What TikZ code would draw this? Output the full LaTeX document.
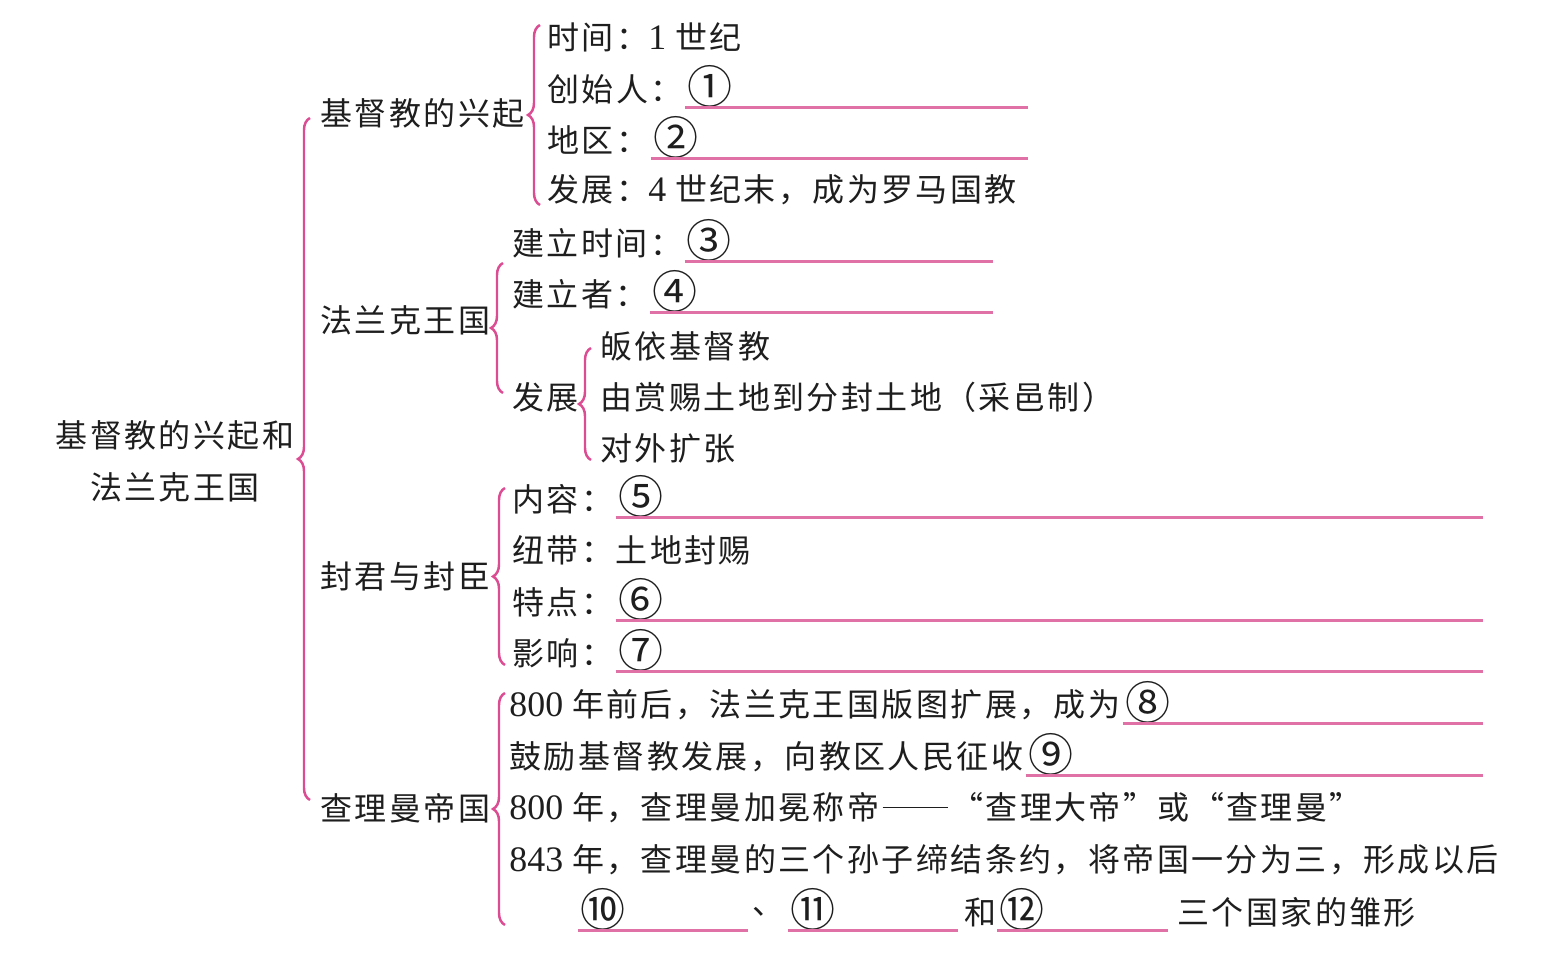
\documentclass[tikz,border=0pt]{standalone}
\usepackage{fontspec}
\setmainfont{Noto Sans CJK SC}[LetterSpace=7.5]
\newfontfamily\latinfont{Liberation Serif}[Scale=1.12]
\usetikzlibrary{positioning,decorations.pathreplacing}
\definecolor{MMPink}{HTML}{DC4C93}
\definecolor{MMLine}{HTML}{E071A6}
\definecolor{MMInk}{HTML}{1E1E1E}
\newcommand{\mmnum}[1]{{\latinfont #1}}
\newcommand{\mmcirc}[1]{\raisebox{-0.02cm}{\fontsize{12.8pt}{12.8pt}\selectfont #1}}
\newcommand{\mmdash}{\hspace{0.1em}\rule[0.36em]{2.05em}{0.045em}\hspace{0.1em}}
\tikzset{
  mmtext/.style={
    anchor=west,
    inner sep=0.5pt,
    text=MMInk,
    font=\fontsize{9.1pt}{14.8pt}\selectfont
  },
  mmroot/.style={mmtext,anchor=center,align=center},
  mmcircle/.style={mmtext,text height=0.28cm,text depth=0.04cm},
  mmbrace/.style={
    draw=MMPink,
    line width=0.7pt,
    decorate,
    decoration={brace,amplitude=0.12cm}
  },
  mmline/.style={draw=MMLine,line width=0.6pt}
}

\begin{document}
\begin{tikzpicture}[x=0.01cm,y=-0.01cm]
  \useasboundingbox (0,0) rectangle (1563,958);
  \node[mmroot] (root) at (175,461) {基督教的兴起和\\法兰克王国};
  \node[mmtext] (rise) at (318,113) {基督教的兴起};
  \node[mmtext] (frank) at (318,320) {法兰克王国};
  \node[mmtext] (lord) at (318,576) {封君与封臣};
  \node[mmtext] (karl) at (318,808) {查理曼帝国};
  \coordinate (rootT) at (310,118);
  \coordinate (rootB) at (310,800);
  \draw[mmbrace] (rootB) -- (rootT);

  % 基督教的兴起
  \node[mmtext] (rise1) at (545,37) {时间：\mmnum{1 }世纪};
  \node[mmtext] (rise2) at (545,89) {创始人：};
  \node[mmcircle,right=0pt of rise2] (rise2b) {\mmcirc{①}};
  \node[mmtext] (rise3) at (545,140) {地区：};
  \node[mmcircle,right=0pt of rise3] (rise3b) {\mmcirc{②}};
  \node[mmtext] (rise4) at (545,190) {发展：\mmnum{4 }世纪末，成为罗马国教};
  \coordinate (riseT) at (540,25);
  \coordinate (riseB) at (540,205);
  \coordinate (riseE) at (1028,0);
  \draw[mmbrace] (riseB) -- (riseT);
  \draw[mmline] (rise2b.south west) -- (rise2b.south west -| riseE);
  \draw[mmline] (rise3b.south west) -- (rise3b.south west -| riseE);

  % 法兰克王国
  \node[mmtext] (frank1) at (510,243) {建立时间：};
  \node[mmcircle,right=0pt of frank1] (frank1b) {\mmcirc{③}};
  \node[mmtext] (frank2) at (510,294) {建立者：};
  \node[mmcircle,right=0pt of frank2] (frank2b) {\mmcirc{④}};
  \node[mmtext] (frank3) at (510,397) {发展};
  \node[mmtext] (dev1) at (598,346) {皈依基督教};
  \node[mmtext] (dev2) at (598,397) {由赏赐土地到分封土地（采邑制）};
  \node[mmtext] (dev3) at (598,448) {对外扩张};
  \coordinate (frankT) at (503,263);
  \coordinate (frankB) at (503,393);
  \coordinate (frankE) at (993,0);
  \coordinate (devT) at (591,348);
  \coordinate (devB) at (591,460);
  \draw[mmbrace] (frankB) -- (frankT);
  \draw[mmbrace] (devB) -- (devT);
  \draw[mmline] (frank1b.south west) -- (frank1b.south west -| frankE);
  \draw[mmline] (frank2b.south west) -- (frank2b.south west -| frankE);

  % 封君与封臣
  \node[mmtext] (lord1) at (510,499) {内容：};
  \node[mmcircle,right=0pt of lord1] (lord1b) {\mmcirc{⑤}};
  \node[mmtext] (lord2) at (510,550) {纽带：土地封赐};
  \node[mmtext] (lord3) at (510,602) {特点：};
  \node[mmcircle,right=0pt of lord3] (lord3b) {\mmcirc{⑥}};
  \node[mmtext] (lord4) at (510,653) {影响：};
  \node[mmcircle,right=0pt of lord4] (lord4b) {\mmcirc{⑦}};
  \coordinate (lordT) at (505,488);
  \coordinate (lordB) at (505,665);
  \coordinate (lineE) at (1483,0);
  \draw[mmbrace] (lordB) -- (lordT);
  \draw[mmline] (lord1b.south west) -- (lord1b.south west -| lineE);
  \draw[mmline] (lord3b.south west) -- (lord3b.south west -| lineE);
  \draw[mmline] (lord4b.south west) -- (lord4b.south west -| lineE);

  % 查理曼帝国
  \node[mmtext] (karl1) at (507,705) {\mmnum{800 }年前后，法兰克王国版图扩展，成为};
  \node[mmcircle,right=0pt of karl1] (karl1b) {\mmcirc{⑧}};
  \node[mmtext] (karl2) at (507,757) {鼓励基督教发展，向教区人民征收};
  \node[mmcircle,right=0pt of karl2] (karl2b) {\mmcirc{⑨}};
  \node[mmtext] (karl3) at (507,808) {\mmnum{800 }年，查理曼加冕称帝\mmdash“查理大帝”或“查理曼”};
  \node[mmtext] (karl4) at (507,860) {\mmnum{843 }年，查理曼的三个孙子缔结条约，将帝国一分为三，形成以后};
  \node[mmcircle] (kingA) at (578,912) {\mmcirc{⑩}};
  \node[mmtext] (sepA) at (750,912) {、};
  \node[mmcircle] (kingB) at (788,912) {\mmcirc{⑪}};
  \node[mmtext] (sepB) at (962,912) {和};
  \node[mmcircle] (kingC) at (997,912) {\mmcirc{⑫}};
  \node[mmtext] (karl5) at (1175,912) {三个国家的雏形};
  \coordinate (karlT) at (505,693);
  \coordinate (karlB) at (505,925);
  \draw[mmbrace] (karlB) -- (karlT);
  \draw[mmline] (karl1b.south west) -- (karl1b.south west -| lineE);
  \draw[mmline] (karl2b.south west) -- (karl2b.south west -| lineE);
  \draw[mmline] (kingA.south west) -- ++(170,0);
  \draw[mmline] (kingB.south west) -- ++(170,0);
  \draw[mmline] (kingC.south west) -- ++(171,0);
\end{tikzpicture}
\end{document}
